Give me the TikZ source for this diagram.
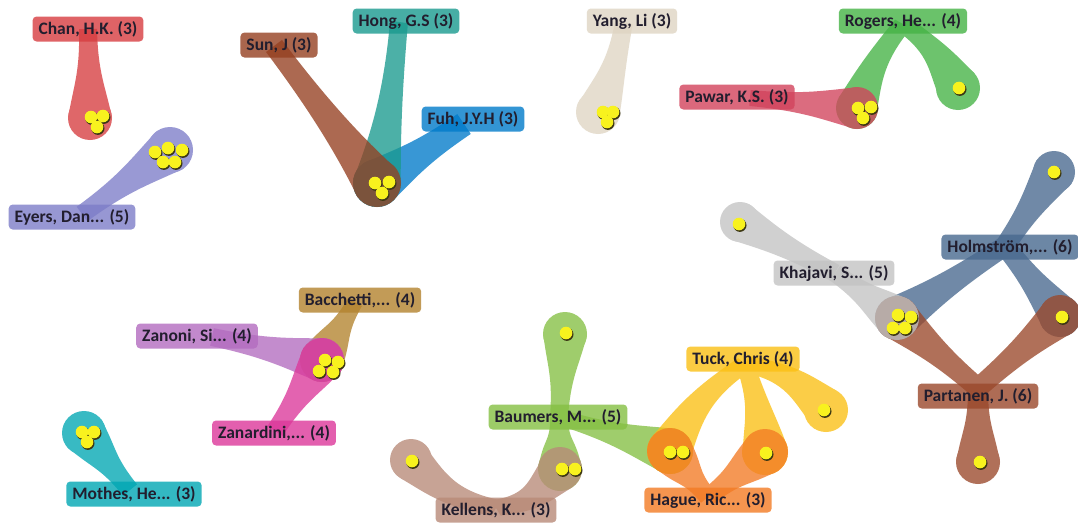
\documentclass[tikz,border=0pt]{standalone}
\usepackage{fontspec}
\setmainfont{Carlito}
\usetikzlibrary{calc}

% cluster colours
\definecolor{colChan}{RGB}{215,61,64}
\definecolor{colEyers}{RGB}{125,125,200}
\definecolor{colSun}{RGB}{149,64,33}
\definecolor{colHong}{RGB}{26,154,143}
\definecolor{colFuh}{RGB}{0,123,202}
\definecolor{colYang}{RGB}{223,213,195}
\definecolor{colRogers}{RGB}{69,179,69}
\definecolor{colPawar}{RGB}{210,67,92}
\definecolor{colHolm}{RGB}{72,105,143}
\definecolor{colKhajavi}{RGB}{195,195,195}
\definecolor{colPartanen}{RGB}{154,72,43}
\definecolor{colTuck}{RGB}{251,192,20}
\definecolor{colHague}{RGB}{243,123,36}
\definecolor{colBaumers}{RGB}{133,192,67}
\definecolor{colKellens}{RGB}{184,138,120}
\definecolor{colBacchetti}{RGB}{179,131,46}
\definecolor{colZanoni}{RGB}{179,108,192}
\definecolor{colZanardini}{RGB}{220,56,154}
\definecolor{colMothes}{RGB}{0,167,179}
\definecolor{labeltext}{RGB}{34,30,46}
\definecolor{ballfill}{RGB}{248,242,30}
\definecolor{ballshade}{RGB}{60,55,20}

\tikzset{
  grp/.style={transparency group, opacity=0.78},
  lbl/.style={fill=#1, fill opacity=0.8, text opacity=1, text=labeltext,
    rounded corners=4pt, minimum height=25pt, inner xsep=6pt, inner ysep=0pt,
    font=\bfseries\fontsize{17.5}{19}\selectfont},
}

% colour used by the bands that follow
\newcommand\bandcolour[1]{\def\curbandcol{#1}}
\bandcolour{black}

% stem from a hub (half width #2) flaring into a bubble (radius #4);
% #5 pushes the stem sideways (pt) to bend it
\newcommand\band[5]{%
  \pgfmathsetmacro\bandpa{#2+#5}%
  \pgfmathsetmacro\bandpb{-#2+#5}%
  \pgfmathsetmacro\bandqa{0.72*#4+0.4*#5}%
  \pgfmathsetmacro\bandqb{-0.72*#4+0.4*#5}%
  \pgfmathsetmacro\bandback{1.5*#4}%
  \fill[fill=\curbandcol]
    ($(#1)!#2pt!90:(#3)$)
    .. controls ($ ($(#1)!0.5!(#3)$) !\bandpa pt!90:(#3) $)
            and ($ ($(#3)!\bandback pt!(#1)$) !\bandqa pt!-90:(#1) $)
    .. ($(#3)!#4pt!-90:(#1)$)
    -- ($(#3)!#4pt!90:(#1)$)
    .. controls ($ ($(#3)!\bandback pt!(#1)$) !\bandqb pt!-90:(#1) $)
            and ($ ($(#1)!0.5!(#3)$) !\bandpb pt!90:(#3) $)
    .. ($(#1)!#2pt!-90:(#3)$) -- cycle;
  \fill[fill=\curbandcol] (#3) circle[radius=#4pt];}

% yellow item marker with a dark rim
\newcommand\yball[2]{%
  \fill[ballshade] (#1,#2) ++(0.9,1.3) circle[radius=6.6pt];
  \fill[ballfill] (#1,#2) circle[radius=6.3pt];}

\begin{document}
\begin{tikzpicture}[x=1pt,y=-1pt]
\useasboundingbox (0,0) rectangle (1078,522);
\fill[white] (0,0) rectangle (1078,522);

% hubs (inside the labels)
\coordinate (hChan) at (88,29);
\coordinate (hEyers) at (82,214);
\coordinate (hSun) at (274,46);
\coordinate (hHong) at (399,22);
\coordinate (hFuh) at (464,124);
\coordinate (hYang) at (624,22);
\coordinate (hRogers) at (903,24);
\coordinate (hPawar) at (750,98);
\coordinate (hKhajavi) at (835,273);
\coordinate (hHolm) at (1005,246);
\coordinate (hPartanen) at (978,388);
\coordinate (hTuck) at (745,364);
\coordinate (hHague) at (708,497);
\coordinate (hBaumers) at (559,417);
\coordinate (hKellens) at (496,508);
\coordinate (hBacchetti) at (355,302);
\coordinate (hZanoni) at (212,337);
\coordinate (hZanardini) at (275,431);
\coordinate (hMothes) at (130,490);

% bubbles
\coordinate (cChan) at (90,118);
\coordinate (cEyers) at (170,150);
\coordinate (cSun) at (377,183);
\coordinate (cYang) at (598,112);
\coordinate (cPawar) at (857,108);
\coordinate (cRog) at (958,88);
\coordinate (cHolmTop) at (1054,172);
\coordinate (cKhaL) at (740,222);
\coordinate (cMid) at (897,318);
\coordinate (cRight) at (1060,316);
\coordinate (cPartB) at (978,462);
\coordinate (cTuckR) at (826,410);
\coordinate (cOrL) at (670,451);
\coordinate (cOrR) at (765,452);
\coordinate (cBauT) at (565,334);
\coordinate (cBauB) at (560,469);
\coordinate (cKelL) at (411,460);
\coordinate (cZan) at (322,360);
\coordinate (cMoth) at (84,433);

% bands, one transparency group per author
\begin{scope}[grp] \bandcolour{colChan} \band{hChan}{9}{cChan}{22}{0} \end{scope}
\begin{scope}[grp] \bandcolour{colEyers} \band{hEyers}{9}{cEyers}{23}{0} \end{scope}
\begin{scope}[grp] \bandcolour{colFuh} \band{hFuh}{12}{cSun}{24}{0} \end{scope}
\begin{scope}[grp] \bandcolour{colHong} \band{hHong}{9}{cSun}{24}{4} \end{scope}
\begin{scope}[grp] \bandcolour{colSun} \band{hSun}{10}{cSun}{24}{0} \end{scope}
\begin{scope}[grp] \bandcolour{colYang} \band{hYang}{9}{cYang}{22}{5} \end{scope}
\begin{scope}[grp] \bandcolour{colRogers}
  \band{hRogers}{9}{cPawar}{21}{-9}
  \band{hRogers}{9}{cRog}{22}{10}
\end{scope}
\begin{scope}[grp] \bandcolour{colPawar} \band{hPawar}{8}{cPawar}{21}{0} \end{scope}
\begin{scope}[grp] \bandcolour{colHolm}
  \band{hHolm}{10}{cHolmTop}{21}{0}
  \band{hHolm}{10}{cMid}{22}{0}
  \band{hHolm}{10}{cRight}{21}{0}
\end{scope}
\begin{scope}[grp] \bandcolour{colPartanen}
  \band{hPartanen}{10}{cMid}{22}{0}
  \band{hPartanen}{10}{cRight}{21}{0}
  \band{hPartanen}{10}{cPartB}{22}{0}
\end{scope}
\begin{scope}[grp] \bandcolour{colKhajavi}
  \band{hKhajavi}{9}{cKhaL}{20}{0}
  \band{hKhajavi}{9}{cMid}{22}{0}
\end{scope}
\begin{scope}[grp] \bandcolour{colBaumers}
  \band{hBaumers}{9}{cBauT}{22}{0}
  \band{hBaumers}{9}{cBauB}{22}{0}
  \band{hBaumers}{8}{cOrL}{23}{0}
\end{scope}
\begin{scope}[grp] \bandcolour{colTuck}
  \band{hTuck}{9}{cOrL}{23}{-16}
  \band{hTuck}{9}{cOrR}{23}{5}
  \band{hTuck}{9}{cTuckR}{22}{16}
\end{scope}
\begin{scope}[grp] \bandcolour{colHague}
  \band{hHague}{9}{cOrL}{23}{0}
  \band{hHague}{9}{cOrR}{23}{0}
\end{scope}
\begin{scope}[grp] \bandcolour{colKellens}
  \band{hKellens}{9}{cKelL}{21}{16}
  \band{hKellens}{9}{cBauB}{22}{-16}
\end{scope}
\begin{scope}[grp] \bandcolour{colBacchetti} \band{hBacchetti}{8}{cZan}{22}{0} \end{scope}
\begin{scope}[grp] \bandcolour{colZanoni} \band{hZanoni}{9}{cZan}{22}{0} \end{scope}
\begin{scope}[grp] \bandcolour{colZanardini} \band{hZanardini}{9}{cZan}{22}{0} \end{scope}
\begin{scope}[grp] \bandcolour{colMothes} \band{hMothes}{9}{cMoth}{22}{0} \end{scope}

% items
\yball{91}{117}\yball{103}{116}\yball{97}{127}
\yball{155}{152}\yball{168}{148}\yball{182}{150}\yball{163}{162}\yball{175}{162}
\yball{375}{183}\yball{389}{182}\yball{382}{193}
\yball{603}{112}\yball{613}{112}\yball{607}{122}
\yball{858}{108}\yball{871}{107}\yball{863}{118}
\yball{959}{88}
\yball{1054}{172}
\yball{739}{224}
\yball{898}{315}\yball{911}{317}\yball{893}{328}\yball{905}{328}
\yball{1062}{317}
\yball{980}{462}
\yball{824}{410}
\yball{670}{452}\yball{683}{452}
\yball{766}{453}
\yball{566}{333}
\yball{562}{469}\yball{575}{469}
\yball{412}{461}
\yball{325}{360}\yball{338}{362}\yball{319}{371}\yball{333}{372}
\yball{82}{432}\yball{94}{432}\yball{87}{442}

% author labels
\node[lbl=colChan] (chan) at (88,29) {Chan, H.K. (3)};
\node[lbl=colEyers] (eyers) at (72,217) {Eyers, Dan... (5)};
\node[lbl=colSun] (sun) at (279,45) {Sun, J (3)};
\node[lbl=colHong] (hong) at (406,21) {Hong, G.S (3)};
\node[lbl=colFuh] (fuh) at (473,119) {Fuh, J.Y.H (3)};
\node[lbl=colYang] (yang) at (632,21) {Yang, Li (3)};
\node[lbl=colRogers] (rogers) at (903,21) {Rogers, He... (4)};
\node[lbl=colPawar] (pawar) at (737,97) {Pawar, K.S. (3)};
\node[lbl=colHolm] (holm) at (1010,247) {Holmström,... (6)};
\node[lbl=colKhajavi] (khajavi) at (834,273) {Khajavi, S... (5)};
\node[lbl=colPartanen] (partanen) at (978,396) {Partanen, J. (6)};
\node[lbl=colTuck] (tuck) at (743,359) {Tuck, Chris (4)};
\node[lbl=colHague] (hague) at (708,500) {Hague, Ric... (3)};
\node[lbl=colBaumers] (baumers) at (558,417) {Baumers, M... (5)};
\node[lbl=colKellens] (kellens) at (496,510) {Kellens, K... (3)};
\node[lbl=colBacchetti] (bacchetti) at (360,300) {Bacchetti,... (4)};
\node[lbl=colZanoni] (zanoni) at (197,336) {Zanoni, Si... (4)};
\node[lbl=colZanardini] (zanardini) at (274,433) {Zanardini,... (4)};
\node[lbl=colMothes] (mothes) at (134,494) {Mothes, He... (3)};
\end{tikzpicture}
\end{document}
